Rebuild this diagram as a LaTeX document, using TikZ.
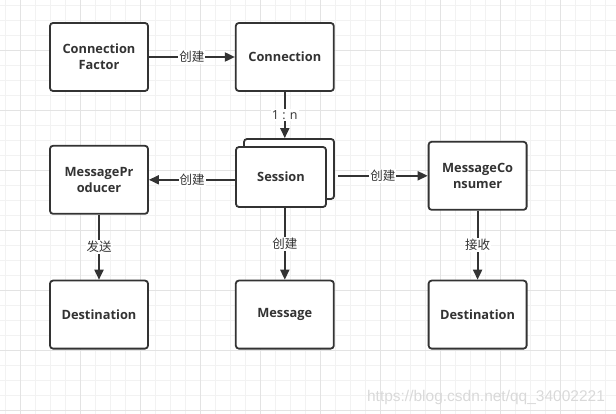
\documentclass[tikz,border=0pt]{standalone}
\usepackage{fontspec}
\setmainfont{Open Sans}
\newfontfamily\cjk{Noto Sans CJK SC}
\newfontfamily\wmfont{Liberation Sans}
\usetikzlibrary{positioning, arrows.meta}

\definecolor{ink}{HTML}{333333}
\definecolor{gridminor}{HTML}{F2F2F2}
\definecolor{gridmajor}{HTML}{E3E3E3}

\tikzset{
	box/.style={draw=ink, line width=1.8pt, rounded corners=3pt, fill=white,
		minimum width=98pt, minimum height=68pt, align=center, text=ink,
		font=\bfseries\fontsize{12.8}{15.7}\selectfont},
	sessbox/.style={box, minimum width=90pt, minimum height=60pt},
	lbl/.style={fill=white, inner sep=1pt, text=ink, font=\cjk\fontsize{12.5}{12.5}\selectfont},
	link/.style={draw=ink, line width=1.8pt, -{Triangle[length=10pt,width=9pt]}}
}

\begin{document}
\begin{tikzpicture}[x=1pt, y=-1pt]
	\useasboundingbox (0,0) rectangle (616,414);
	% grid
	\foreach \x in {5.7,20.7,...,615} \draw[gridminor, line width=0.8pt] (\x,0) -- (\x,414);
	\foreach \y in {5.7,20.7,...,414} \draw[gridminor, line width=0.8pt] (0,\y) -- (616,\y);
	\foreach \x in {20.7,80.7,...,615} \draw[gridmajor, line width=0.8pt] (\x,0) -- (\x,414);
	\foreach \y in {50.7,110.7,...,414} \draw[gridmajor, line width=0.8pt] (0,\y) -- (616,\y);

	\node[box] (factory) at (99,57) {Connection\\Factor};
	\node[box, right=86pt of factory] (conn) {Connection};
	\node[box, below=53pt of factory] (producer) {MessagePr\\oducer};
	\node[box, below=65pt of producer] (destP) {Destination};
	\node[box, right=86pt of destP] (message) {Message};
	\node[box, right=93pt of message] (destC) {Destination};
	\node[box, above=69pt of destC] (consumer) {MessageCo\\nsumer};

	\node[sessbox] (sessback) at (289,169) {};
	\node[sessbox] (session) at (281,177) {Session};

	\draw[link] (factory) -- node[lbl] {创建} (conn);
	\draw[link] (conn.south) -- node[lbl, font=\fontsize{12.5}{12.5}\selectfont] {1 : n} (conn.south |- sessback.north);
	\draw[link] (session.west |- producer.east) -- node[lbl] {创建} (producer.east);
	\draw[link] ([xshift=3pt]sessback.east |- consumer.west) -- node[lbl] {创建} (consumer.west);
	\draw[link] (producer) -- node[lbl] {发送} (destP);
	\draw[link] (message.north |- session.south) -- node[lbl] {创建} (message.north);
	\draw[link] (consumer) -- node[lbl] {接收} (destC);

	% watermark
	\node[text=gray!30, font=\wmfont\fontsize{15.5}{15.5}\selectfont] (mark) at (486,397) {https://blog.csdn.net/qq\_34002221};
\end{tikzpicture}
\end{document}
